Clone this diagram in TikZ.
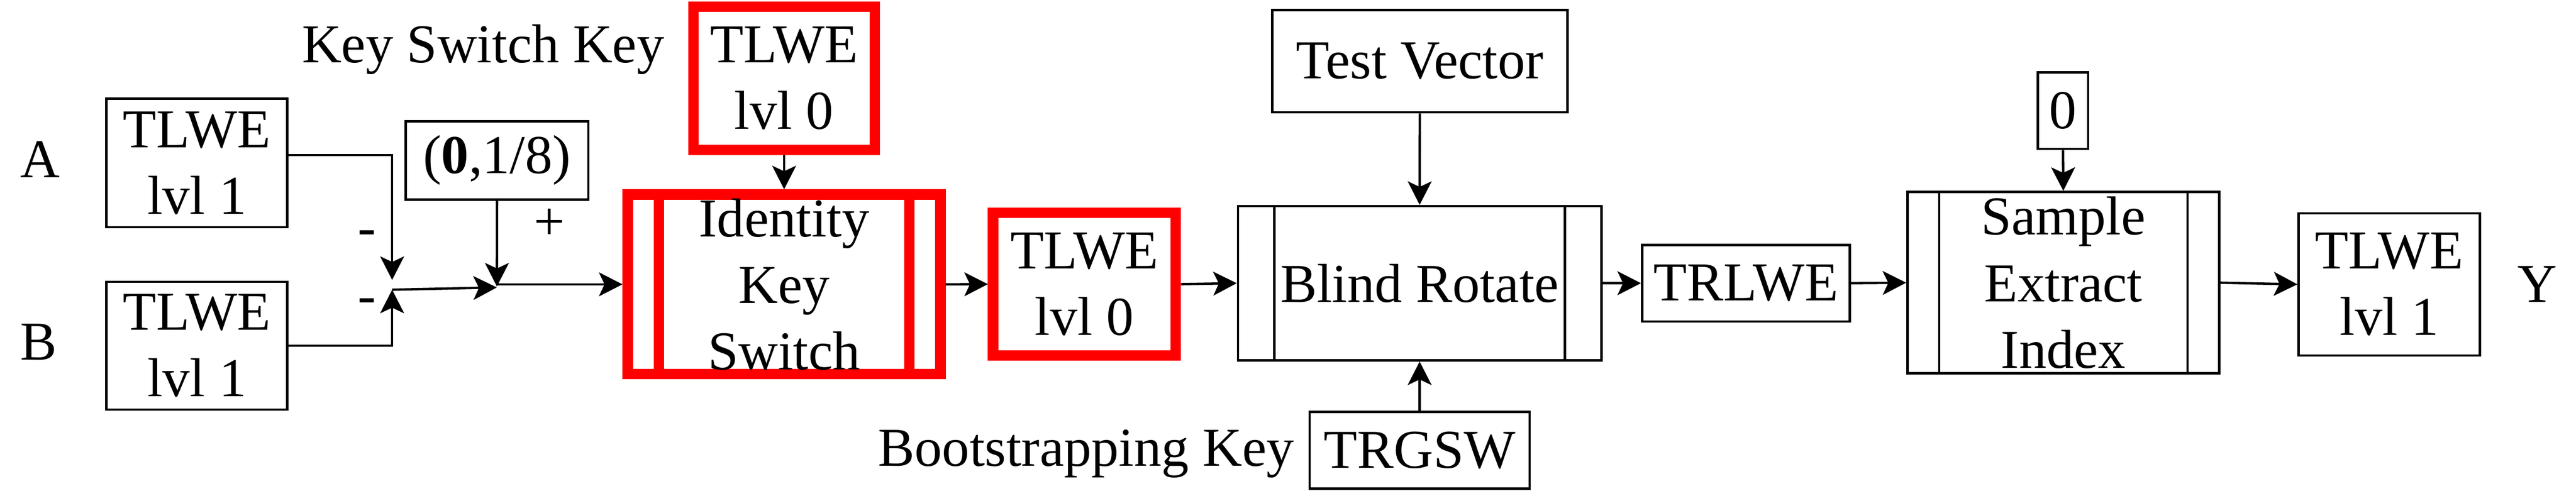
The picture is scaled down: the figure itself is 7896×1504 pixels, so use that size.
\documentclass[tikz,border=0pt]{standalone}
\usepackage{fontspec}
\setmainfont{Liberation Serif}
\usetikzlibrary{arrows.meta,calc}
\begin{document}
\begin{tikzpicture}[x=0.1pt,y=-0.1pt,
  font=\fontsize{16.8}{20.4}\selectfont,
  blk/.style={draw=black, line width=0.72pt, inner sep=0pt, align=center},
  redbox/.style={draw=red, line width=3.2pt, inner sep=0pt, align=center},
  arr/.style={-{Stealth[length=7.2pt,width=7.3pt,inset=1.7pt]}, line width=0.72pt},
  lbl/.style={inner sep=0pt},
  inner/.style={line width=0.72pt}
]
\useasboundingbox (0,0) rectangle (7896,1504);

% input boxes
\node[blk, minimum width=55.4pt, minimum height=39.4pt] (A) at (603.5,499.5) {TLWE\\lvl 1};
\node[blk, minimum width=55.4pt, minimum height=39.2pt] (B) at (603.5,1059.5) {TLWE\\lvl 1};
\node[lbl, anchor=base] (la) at (123,544) {A};
\node[lbl, anchor=base] (lb) at (119,1103) {B};

\node[blk, minimum width=56.0pt, minimum height=24.0pt] (K18) at (1523.5,491.5) {(\textbf{0},1/8)};

% key switch
\node[redbox, minimum width=55.7pt, minimum height=43.8pt] (KSK) at (2403.5,240) {TLWE\\lvl 0};
\node[lbl, anchor=base east] (kskl) at (2038,192) {Key Switch Key};
\node[redbox, minimum width=95.9pt, minimum height=55.1pt] (IKS) at (2403.5,871.5) {Identity\\Key\\Switch};
\draw[red, line width=3.2pt] ([xshift=11.15pt]IKS.north west) -- ([xshift=11.15pt]IKS.south west);
\draw[red, line width=3.2pt] ([xshift=-11.15pt]IKS.north east) -- ([xshift=-11.15pt]IKS.south east);
\node[redbox, minimum width=56.0pt, minimum height=43.8pt] (T0) at (3324,871) {TLWE\\lvl 0};

% blind rotate
\node[blk, minimum width=90.5pt, minimum height=31.4pt] (TV) at (4352,187.5) {Test Vector};
\node[blk, minimum width=111.4pt, minimum height=47.3pt] (BR) at (4351.5,868) {Blind Rotate};
\draw[inner] ([xshift=11.5pt]BR.north west) -- ([xshift=11.5pt]BR.south west);
\draw[inner] ([xshift=-11.5pt]BR.north east) -- ([xshift=-11.5pt]BR.south east);
\node[blk, minimum width=67.4pt, minimum height=23.5pt] (TRGSW) at (4351.5,1380) {TRGSW};
\node[lbl, anchor=base east] (bkl) at (3968,1429) {Bootstrapping Key};
\node[blk, minimum width=63.7pt, minimum height=23.5pt] (TRLWE) at (5352,868) {TRLWE};

% sample extract
\node[blk, minimum width=15.4pt, minimum height=23.5pt] (Z) at (6323.5,339) {0};
\node[blk, minimum width=95.6pt, minimum height=55.6pt] (SEI) at (6324.5,866.5) {Sample\\Extract\\Index};
\draw[inner] ([xshift=10.1pt]SEI.north west) -- ([xshift=10.1pt]SEI.south west);
\draw[inner] ([xshift=-10.1pt]SEI.north east) -- ([xshift=-10.1pt]SEI.south east);
\node[blk, minimum width=55.6pt, minimum height=43.6pt] (TO) at (7323.5,871.5) {TLWE\\lvl 1};
\node[lbl, anchor=base] (ly) at (7778,926) {Y};

% sign labels
\node[lbl] (m1) at (1124,730) {-};
\node[lbl] (m2) at (1124,938) {-};
\node[lbl] (p1) at (1684,688) {+};

% junctions
\coordinate (J1) at (1202,888);
\coordinate (J2) at (1523,881);

% connectors
\draw[arr, shorten >=3pt] ([yshift=2.4pt]A.east) -| (J1);
\draw[arr] (B.east) -| (J1);
\draw[arr] (J1) -- (J2);
\draw[arr, shorten >=0.3pt] (K18.south) -- (J2);
\draw[arr] (J2 |- IKS.west) -- (IKS.west);
\draw[arr] (KSK.south) -- (IKS.north);
\draw[arr] (IKS.east) -- (T0.west);
\draw[arr] (T0.east) -- (BR.west);
\draw[arr] (TV.south) -- (BR.north);
\draw[arr] (TRGSW.north) -- (BR.south);
\draw[arr] (BR.east) -- (TRLWE.west);
\draw[arr] (TRLWE.east) -- (SEI.west);
\draw[arr] (Z.south) -- (SEI.north);
\draw[arr] (SEI.east) -- (TO.west);
\end{tikzpicture}
\end{document}
